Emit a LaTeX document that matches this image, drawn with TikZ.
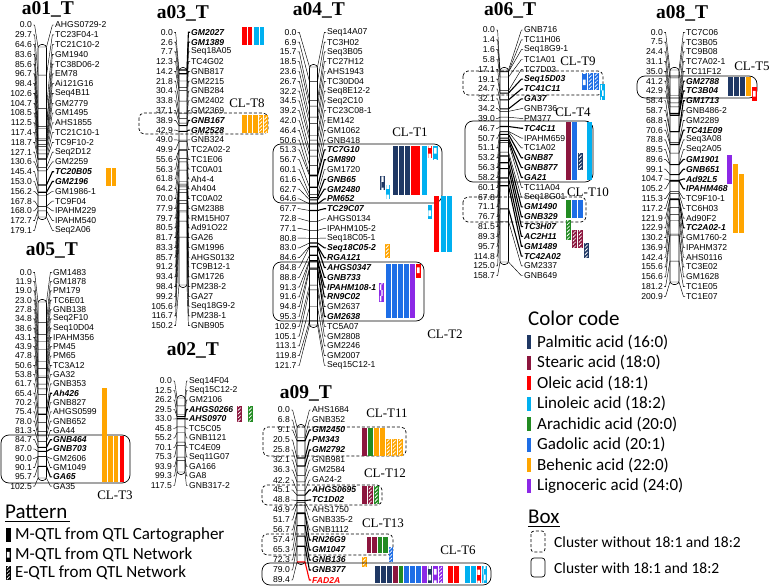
\documentclass[tikz,border=0pt]{standalone}
\usepackage{fontspec}
\setmainfont{Liberation Serif}
\newfontfamily\arialf{Liberation Sans}
\newfontfamily\calib{Carlito}
\usetikzlibrary{patterns,patterns.meta,calc}
\definecolor{cPal}{RGB}{31,56,100}
\definecolor{cSte}{RGB}{140,22,62}
\definecolor{cOle}{RGB}{255,0,0}
\definecolor{cLin}{RGB}{0,176,240}
\definecolor{cAra}{RGB}{34,139,34}
\definecolor{cGad}{RGB}{30,110,230}
\definecolor{cBeh}{RGB}{255,165,0}
\definecolor{cLig}{RGB}{140,40,230}
\tikzset{
 numlab/.style={font=\arialf\fontsize{8.6}{9}\selectfont, inner sep=0pt, anchor=east},
 mklab/.style={font=\arialf\fontsize{8.6}{9}\selectfont, inner sep=0pt, anchor=west},
 mkbold/.style={font=\arialf\bfseries\itshape\fontsize{8.6}{9}\selectfont, inner sep=0pt, anchor=west},
 mkred/.style={font=\arialf\bfseries\itshape\fontsize{8.6}{9}\selectfont, inner sep=0pt, anchor=west, text=red},
 lgtitle/.style={font=\bfseries\fontsize{19.5}{21}\selectfont, inner sep=0pt},
 cltitle/.style={font=\fontsize{13}{14}\selectfont, inner sep=0pt},
 fan/.style={line width=0.45pt},
 fanb/.style={line width=1.1pt},
 fanr/.style={line width=1.1pt, draw=red},
 chrom/.style={line width=0.6pt, rounded corners=3.5pt},
 clsolid/.style={draw, line width=0.7pt, rounded corners=8pt},
 cldash/.style={draw, line width=0.7pt, rounded corners=5pt, dash pattern=on 3pt off 2pt},
 legtitle/.style={font=\calib\fontsize{21}{23}\selectfont, inner sep=0pt, anchor=west},
 legitem/.style={font=\calib\fontsize{17}{19}\selectfont, inner sep=0pt, anchor=west},
 boxitem/.style={font=\calib\fontsize{15.5}{17}\selectfont, inner sep=0pt, anchor=west},
}
\newcommand\lgset[9]{\def\Lxn{#1}\def\Lxbl{#2}\def\Lxbr{#3}\def\Lxm{#4}\def\Lyo{#5}\def\Ldy{#6}\def\Ltop{#7}\def\Lbot{#8}\def\Lmax{#9}}
\newcommand\lgdraw[2]{%
  \draw[chrom] (\Lxbl,{\Ltop-2.5}) rectangle (\Lxbr,{\Lbot+2.5});
  \foreach \pos/\nm/\bb [count=\ix from 0] in {#2} {%
    \pgfmathsetmacro\yl{\Lyo+\ix*\Ldy}%
    \pgfmathsetmacro\yt{\Ltop+\pos/\Lmax*(\Lbot-\Ltop)}%
    \node[numlab] (#1n\ix) at (\Lxn,\yl) {\pos};
    \draw[fan] (#1n\ix.east) ++(1,0) -- ++(1.6,0) -- (\Lxbl,\yt);
    \ifcase\bb
      \node[mklab] (#1m\ix) at (\Lxm,\yl) {\nm};
      \draw[fan] (\Lxbl,\yt) -- (\Lxbr,\yt) -- ($(#1m\ix.west)+(-2.6,0)$) -- ++(1.6,0);
    \or
      \node[mkbold] (#1m\ix) at (\Lxm,\yl) {\nm};
      \draw[fanb] (\Lxbl,\yt) -- (\Lxbr,\yt) -- ($(#1m\ix.west)+(-2.6,0)$) -- ++(1.6,0);
    \or
      \node[mkred] (#1m\ix) at (\Lxm,\yl) {\nm};
      \draw[fanr] (\Lxbl,\yt) -- (\Lxbr,\yt) -- ($(#1m\ix.west)+(-2.6,0)$) -- ++(1.6,0);
    \fi
  }%
}
\newcommand\qS[4]{\fill[#1] (#2,#3) rectangle ({#2+4.5},#4);}
\newcommand\qC[4]{\fill[#1] (#2,#3) rectangle ({#2+4.5},#4); \fill[pattern=checkerboard,pattern color=white] ({#2+0.8},{#3+0.8}) rectangle ({#2+3.7},{#4-0.8});}
\newcommand\qH[4]{\fill[#1] (#2,#3) rectangle ({#2+4.5},#4); \fill[pattern={Lines[angle=45,distance=2.6pt,line width=0.8pt]},pattern color=white] ({#2+0.8},{#3+0.8}) rectangle ({#2+3.7},{#4-0.8});}
\begin{document}
\begin{tikzpicture}[x=1pt,y=-1pt]
\useasboundingbox[fill=white] (0,0) rectangle (772,586);

% ---------- a01
\node[lgtitle] (ta01) at (48,9) {a01\_T};
\lgset{32}{38}{46.5}{55}{25}{9.78}{47}{217}{179.1}
\lgdraw{a}{0.0/AHGS0729-2/0, 29.7/TC23F04-1/0, 64.6/TC21C10-2/0, 83.6/GM1940/0, 85.6/TC38D06-2/0, 96.7/EM78/0, 98.4/Ai121G16/0, 102.6/Seq4B11/0, 104.7/GM2779/0, 108.5/GM1495/0, 112.5/AHS1855/0, 117.4/TC21C10-1/0, 118.7/TC9F10-2/0, 127.1/Seq2D12/0, 130.6/GM2259/0, 145.4/TC20B05/1, 153.0/GM2196/1, 156.2/GM1986-1/0, 167.8/TC9F04/0, 168.0/IPAHM229/0, 172.7/IPAHM540/0, 179.1/Seq2A06/0}
\qS{cBeh}{106}{168}{186}
\qS{cBeh}{111.5}{168}{186}

% ---------- a05
\node[lgtitle] (ta05) at (52,250) {a05\_T};
\lgset{32}{38}{46.5}{53}{272.3}{9.3}{302}{478}{102.5}
\lgdraw{e}{0.0/GM1483/0, 11.9/GM1878/0, 19.0/PM179/0, 23.0/TC6E01/0, 27.8/GNB138/0, 34.8/Seq2F10/0, 38.6/Seq10D04/0, 43.1/IPAHM356/0, 43.9/PM45/0, 47.8/PM65/0, 50.6/TC3A12/0, 53.8/GA32/0, 61.7/GNB353/0, 65.4/Ah426/1, 70.2/GNB827/0, 75.4/AHGS0599/0, 78.0/GNB652/0, 81.3/GA44/0, 84.7/GNB464/1, 87.0/GNB703/1, 90.0/GM2606/0, 90.1/GM1049/0, 95.7/GA65/1, 102.5/GA35/0}
\draw[clsolid] (1,435) rectangle (130,483);
\qS{cBeh}{102}{388}{482}
\qS{cBeh}{108}{436}{482}
\qS{cBeh}{113.5}{436}{482}
\qS{cOle}{119.5}{436}{482}
\node[cltitle] (clt3) at (115,495) {CL-T3};

% ---------- a03
\node[lgtitle] (ta03) at (183,13) {a03\_T};
\lgset{173}{179}{187}{191}{32.3}{9.78}{70}{285}{150.2}
\lgdraw{c}{0.0/GM2027/1, 2.6/GM1389/1, 7.7/Seq18A05/0, 12.3/TC4G02/0, 14.2/GNB817/0, 21.8/GM2215/0, 30.4/GNB284/0, 33.8/GM2402/0, 37.1/GM2369/0, 38.9/GNB167/1, 42.9/GM2528/1, 49.0/GNB324/0, 49.9/TC2A02-2/0, 55.6/TC1E06/0, 56.3/TC0A01/0, 61.8/Ah4-4/0, 64.2/Ah404/0, 70.0/TC0A02/0, 77.9/GM2388/0, 79.7/RM15H07/0, 80.5/Ad91O22/0, 81.7/GA26/0, 83.3/GM1996/0, 85.7/AHGS0132/0, 91.2/TC9B12-1/0, 93.4/GM1726/0, 98.4/PM238-2/0, 99.2/GA27/0, 105.6/Seq18G9-2/0, 116.7/PM238-1/0, 150.2/GNB905/0}
\qS{cOle}{242}{27.5}{45.5}
\qS{cOle}{247.5}{27.5}{45.5}
\qS{cLin}{254}{27.5}{45.5}
\qS{cLin}{259.5}{27.5}{45.5}
\draw[cldash] (139,113) rectangle (268,134);
\qS{cBeh}{242}{115.5}{133}
\qS{cBeh}{247.5}{115.5}{133}
\qS{cBeh}{253}{115.5}{133}
\qH{cBeh}{258.5}{115.5}{133}
\qH{cBeh}{263.5}{115.5}{133}
\node[cltitle] (clt8) at (247,103) {CL-T8};

% ---------- a02
\node[lgtitle] (ta02) at (193,350) {a02\_T};
\lgset{172}{177}{185}{189}{381}{9.5}{398}{472}{117.5}
\lgdraw{b}{0.0/Seq14F04/0, 12.5/Seq15C12-2/0, 26.2/GM2106/0, 29.5/AHGS0266/1, 33.0/AHS0970/1, 45.8/TC5C05/0, 55.2/GNB1121/0, 70.1/TC4E09/0, 75.3/Seq11G07/0, 93.9/GA166/0, 99.3/GA8/0, 117.5/GNB317-2/0}
\qH{cSte}{237}{406}{422}
\qH{cAra}{248}{406}{422}

% ---------- a04
\node[lgtitle] (ta04) at (319,10) {a04\_T};
\lgset{296.7}{309.5}{317.5}{327}{32.3}{9.8}{67}{325}{121.7}
\lgdraw{d}{0.0/Seq14A07/0, 6.9/TC3H02/0, 15.7/Seq3B05/0, 18.5/TC27H12/0, 23.6/AHS1943/0, 26.7/TC30D04/0, 32.2/Seq8E12-2/0, 34.5/Seq2C10/0, 39.2/TC23C08-1/0, 42.0/EM142/0, 46.4/GM1062/0, 50.6/GNB418/0, 51.3/TC7G10/1, 56.7/GM890/1, 60.1/GM1720/0, 61.6/GNB65/1, 62.7/GM2480/1, 64.6/PM652/1, 67.7/TC29C07/1, 72.8/AHGS0134/0, 77.1/IPAHM105-2/0, 80.8/Seq18C05-1/0, 83.0/Seq18C05-2/1, 84.6/RGA121/1, 84.8/AHGS0347/1, 88.8/GNB733/1, 91.3/IPAHM108-1/1, 91.6/RN9C02/1, 94.8/GM2637/0, 95.3/GM2638/1, 102.9/TC5A07/0, 105.1/GM2808/0, 113.1/GM2246/0, 119.8/GM2007/0, 121.7/Seq15C12-1/0}
\draw[clsolid] (273,144) rectangle (442,203);
\node[cltitle] (clt1) at (410,132) {CL-T1};
\qS{cPal}{393}{145.5}{195}
\qS{cPal}{399}{145.5}{195}
\qS{cPal}{405}{145.5}{195}
\qS{cOle}{411}{145.5}{195}
\qS{cOle}{415.5}{145.5}{195}
\qS{cLin}{422}{145.5}{195}
\qC{cOle}{427.5}{145.5}{158}
\qC{cLin}{433}{145.5}{160}
\qC{cPal}{380}{176}{190}
\qC{cLin}{385.5}{185}{199}
\qC{cLin}{427.5}{205}{219}
\qS{cOle}{434}{196}{252}
\qS{cLin}{441}{196}{252}
\qS{cLin}{447}{196}{252}
\qH{cBeh}{385}{243.5}{258}
\draw[clsolid] (273,262) rectangle (424,321);
\qC{cLig}{379}{282.5}{302}
\qS{cGad}{386}{263.5}{318}
\qS{cGad}{392}{263.5}{318}
\qS{cGad}{398}{263.5}{318}
\qS{cGad}{404}{263.5}{318}
\qS{cLig}{410}{263.5}{318}
\qC{cOle}{416}{263.5}{278}
\node[cltitle] (clt2) at (445,334) {CL-T2};

% ---------- a09
\node[lgtitle] (ta09) at (306,393) {a09\_T};
\lgset{290}{297}{305}{312}{410}{10}{427}{562}{89.4}
\lgdraw{i}{0.0/AHS1684/0, 6.8/GNB352/0, 9.1/GM2450/1, 20.5/PM343/1, 25.8/GM2792/1, 32.1/GNB981/0, 36.3/GM2584/0, 42.2/GA24-2/0, 45.1/AHGS0695/1, 48.8/TC1D02/1, 49.9/AHS1750/0, 51.7/GNB335-2/0, 56.7/GNB1112/0, 57.4/RN26G9/1, 65.3/GM1047/1, 72.3/GNB136/1, 79.0/GNB377/1, 89.4/FAD2A/2}
\draw[cldash] (263,427) rectangle (406,456);
\node[cltitle] (clt11) at (387,413) {CL-T11};
\qS{cSte}{362}{428}{456}
\qS{cAra}{368}{428}{456}
\qS{cBeh}{374}{428}{456}
\qS{cBeh}{380}{428}{456}
\qH{cBeh}{386}{439}{456}
\qH{cBeh}{392}{439}{456}
\qH{cBeh}{398}{439}{456}
\draw[cldash] (262,485) rectangle (382,505);
\node[cltitle] (clt12) at (385,473) {CL-T12};
\qS{cSte}{362}{486}{504}
\qH{cSte}{368}{486}{504}
\qH{cAra}{374}{486}{504}
\draw[cldash] (262,534) rectangle (393,555);
\node[cltitle] (clt13) at (383,523) {CL-T13};
\qS{cSte}{366.5}{537}{553}
\qS{cSte}{372}{537}{553}
\qS{cAra}{377.5}{537}{553}
\qS{cAra}{383}{537}{553}
\qH{cGad}{388.5}{547}{562}
\qH{cBeh}{362}{557}{567}
\draw[clsolid] (262,563) rectangle (491,585);
\node[cltitle] (clt6) at (458,550) {CL-T6};
\foreach \xx/\cc in {375/cPal,381/cPal,387/cPal,393/cSte,398.5/cAra,404/cGad,410/cGad,416/cGad,422/cLig,448/cOle,454/cOle,465/cLin,471/cLin}{\qS{\cc}{\xx}{566}{583}}
\qC{cPal}{427.5}{566}{583}
\qC{cLig}{433}{566}{583}
\qH{cLig}{438.5}{566}{583}
\qC{cOle}{476.5}{566}{583}
\qC{cLin}{482}{566}{583}

% ---------- a06
\node[lgtitle] (ta06) at (510,10) {a06\_T};
\lgset{495}{500}{508.5}{524}{30}{9.83}{70}{262}{158.7}
\lgdraw{f}{0.0/GNB716/0, 1.4/TC11H06/0, 1.6/Seq18G9-1/0, 5.8/TC1A01/0, 17.1/TC7D03/0, 19.1/Seq15D03/1, 24.7/TC41C11/1, 32.1/GA37/1, 34.2/GNB736/0, 39.0/PM377/0, 46.7/TC4C11/1, 50.7/IPAHM659/0, 51.1/TC1A02/0, 53.2/GNB87/1, 56.3/GNB877/1, 58.2/GA21/1, 60.1/TC11A04/0, 67.8/Seq18G01/0, 71.1/GM1490/1, 76.7/GNB329/1, 81.5/TC3H07/1, 89.3/AC2H11/1, 95.7/GM1489/1, 114.8/TC42A02/1, 125.0/GM2337/0, 158.7/GNB649/0}
\draw[cldash] (463,71) rectangle (603,95);
\node[cltitle] (clt9) at (578,61) {CL-T9};
\qC{cGad}{582}{73}{90}
\qH{cGad}{588}{73}{90}
\qH{cGad}{594}{73}{90}
\qC{cLin}{600}{84}{100}
\draw[clsolid] (465,121) rectangle (593,182);
\node[cltitle] (clt4) at (573,112) {CL-T4};
\qS{cSte}{566}{122}{180}
\qS{cGad}{572}{122}{180}
\qH{cPal}{578}{153}{170}
\qS{cLin}{587}{122}{180}
\draw[cldash] (463,197) rectangle (586,222);
\node[cltitle] (clt10) at (588,192) {CL-T10};
\qS{cAra}{566}{200}{218}
\qS{cGad}{572}{200}{218}
\qS{cGad}{578}{200}{218}
\qH{cAra}{566}{220}{240}
\qH{cSte}{572}{230}{248}
\qH{cSte}{578}{230}{248}
\qH{cPal}{584}{243}{258}

% ---------- a08
\node[lgtitle] (ta08) at (682,13) {a08\_T};
\lgset{663}{670}{679}{686}{32.3}{9.78}{70}{282}{200.9}
\lgdraw{h}{0.0/TC7C06/0, 7.5/TC3B05/0, 24.4/TC9B08/0, 31.1/TC7A02-1/0, 35.0/TC11F12/0, 41.2/GM2788/1, 42.9/TC3B04/1, 58.4/GM1713/1, 58.7/GNB486-2/0, 68.8/GM2289/0, 70.6/TC41E09/1, 78.8/Seq3A08/0, 89.5/Seq2A05/0, 89.6/GM1901/1, 99.1/GNB651/1, 104.7/Ad92L5/1, 105.2/IPAHM468/1, 115.3/TC9F10-1/0, 117.2/TC6H03/0, 121.9/Ad90F2/0, 122.9/TC2A02-1/1, 130.2/GM1760-2/0, 136.9/IPAHM372/0, 142.4/AHS0116/0, 155.6/TC3E02/0, 156.6/GM1628/0, 181.2/TC1E05/0, 200.9/TC1E07/0}
\draw[clsolid] (637,76) rectangle (757,98);
\node[cltitle] (clt5) at (752,66) {CL-T5};
\qS{cPal}{728}{77.5}{96.5}
\qS{cPal}{734}{77.5}{96.5}
\qS{cPal}{740}{77.5}{96.5}
\qS{cBeh}{746}{77.5}{96.5}
\qC{cOle}{752}{87}{101}
\qS{cLig}{727}{155}{184}
\qS{cBeh}{733}{164}{233}
\qS{cBeh}{739}{174}{233}

% ---------- legends
\node[legtitle] (pattitle) at (5,512) {Pattern};
\draw[line width=0.9pt] (5,521.5) -- (70,521.5);
\qS{black}{6}{528}{542}
\qC{black}{6}{548}{562}
\qH{black}{6}{566}{580}
\node[legitem] (pat1) at (15,535) {M-QTL from QTL Cartographer};
\node[legitem] (pat2) at (15,555) {M-QTL from QTL Network};
\node[legitem] (pat3) at (15,573) {E-QTL from QTL Network};

\node[legtitle] (cctitle) at (528,318) {Color code};
\foreach \cc/\tx [count=\k from 0] in {cPal/Palmitic acid (16:0), cSte/Stearic acid (18:0), cOle/Oleic acid (18:1), cLin/Linoleic acid (18:2), cAra/Arachidic acid (20:0), cGad/Gadolic acid (20:1), cBeh/Behenic acid (22:0), cLig/Lignoceric acid (24:0)}{
  \fill[\cc] (527,{335+\k*20.5}) rectangle (531,{349+\k*20.5});
  \node[legitem] (cc\k) at (537,{342+\k*20.5}) {\tx};
}
\node[legtitle] (boxtitle) at (528,517) {Box};
\draw[line width=0.9pt] (528,526.5) -- (560,526.5);
\draw[cldash, rounded corners=3pt] (531,531) rectangle (545,552);
\draw[clsolid, rounded corners=3pt] (531,558) rectangle (545,577);
\node[boxitem] (box1) at (554,542) {Cluster without 18:1 and 18:2};
\node[boxitem] (box2) at (554,568) {Cluster with 18:1 and 18:2};
\end{tikzpicture}
\end{document}
